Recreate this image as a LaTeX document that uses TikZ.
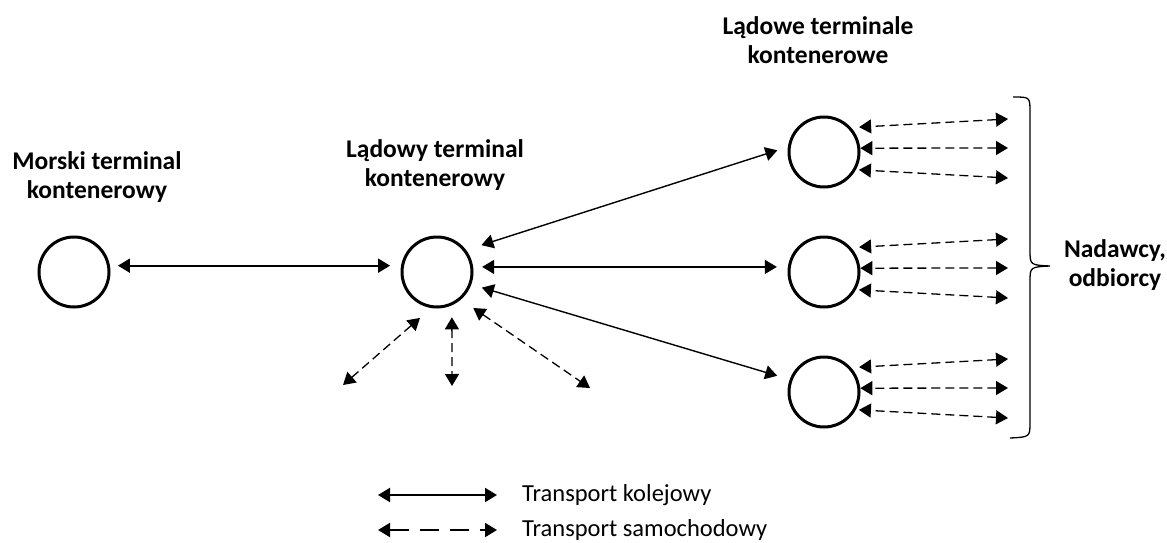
\documentclass[tikz,border=0pt]{standalone}
\usepackage{fontspec}
\setmainfont{Carlito}
\usetikzlibrary{arrows.meta}

\begin{document}
\begin{tikzpicture}[x=1pt,y=-1pt,<->,>={Triangle[length=12pt,width=14pt]},
    terminal/.style={circle,draw,line width=3pt,minimum size=70pt,inner sep=0pt},
    rail/.style={line width=1.4pt},
    road/.style={line width=1.3pt,dash pattern=on 9pt off 5pt},
    caption/.style={font=\fontsize{25.5}{29}\selectfont\bfseries,align=center,inner sep=0pt},
    legend/.style={font=\fontsize{24.5}{28}\selectfont,anchor=west,inner sep=0pt}]
    \useasboundingbox (0,0) rectangle (1167,543);

    \node[terminal] (sea) at (74,272)  {};
    \node[terminal] (hub) at (437,272) {};
    \node[terminal] (in1) at (824,152) {};
    \node[terminal] (in2) at (824,272) {};
    \node[terminal] (in3) at (824,392) {};

    \node[caption] (seaL) at (97,177)   {Morski terminal\\kontenerowy};
    \node[caption] (hubL) at (435,165)  {Lądowy terminal\\kontenerowy};
    \node[caption] (inL)  at (818,40)   {Lądowe terminale\\kontenerowe};
    \node[caption] (usr)  at (1115,265) {Nadawcy,\\odbiorcy};

    % rail links
    \path (sea.10)  edge [rail,line width=2pt,shorten <=8pt,shorten >=11pt] (hub.170)
          (hub.37)  edge [rail,shorten <=16pt,shorten >=11pt] (in1.172)
          (hub.8)   edge [rail,shorten <=9pt,shorten >=11pt]  (in2.172)
          (hub.-20) edge [rail,shorten <=11pt,shorten >=13pt] (in3.160);

    % road links around the hub
    \coordinate (sw) at (343,385);
    \coordinate (s)  at (452,386);
    \coordinate (se) at (590,388);
    \path (hub.-99) edge [road,shorten <=15pt] (sw)
          (hub.-66) edge [road,shorten <=12pt] (s)
          (hub.-49) edge [road,shorten <=15pt] (se);

    % road links to customers
    \foreach \t/\y in {in1/152,in2/272,in3/392}{
      \coordinate (\t-a) at (1008,\y-33);
      \coordinate (\t-b) at (1008,\y-4);
      \coordinate (\t-c) at (1008,\y+26);
      \path (\t-a) edge [road,shorten >=8pt] (\t.42)
            (\t-b) edge [road] (\t.6)
            (\t-c) edge [road,shorten >=3pt] (\t.-29);
    }

    \draw[-,line width=1.3pt] (1013,97) .. controls (1030,97) .. (1030,112) -- (1030,250)
        .. controls (1030,265) .. (1050,266) .. controls (1030,267) .. (1030,282)
        -- (1030,422) .. controls (1030,437) .. (1010,438);

    % legend
    \coordinate (r1) at (378,495);
    \coordinate (r2) at (497,495);
    \coordinate (d1) at (378,530);
    \coordinate (d2) at (497,530);
    \path (r1) edge [rail,line width=2pt] (r2)
          (d1) edge [road,line width=2pt,dash pattern=on 19pt off 11pt] (d2);
    \node[legend] (railL) at (522,495) {Transport kolejowy};
    \node[legend] (roadL) at (522,530) {Transport samochodowy};
\end{tikzpicture}
\end{document}
